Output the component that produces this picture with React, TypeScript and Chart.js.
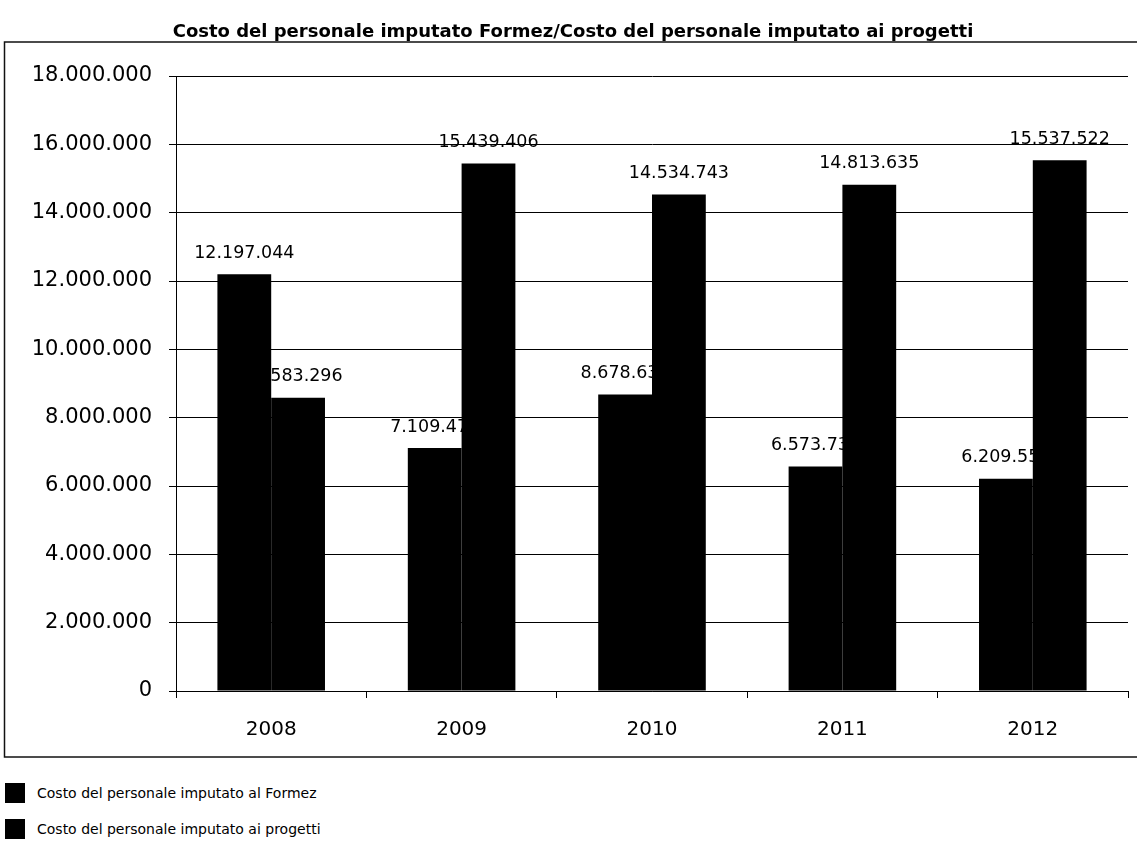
import React, { useEffect, useRef } from "react";
import { Chart, registerables } from "chart.js";

Chart.register(...registerables);

const chartTitle =
  "Costo del personale imputato Formez/Costo del personale imputato ai progetti";
const years = ["2008", "2009", "2010", "2011", "2012"];
const formezCost = [12197044, 7109474, 8678631, 6573731, 6209551];
const projectCost = [8583296, 15439406, 14534743, 14813635, 15537522];
const seriesLabels = [
  "Costo del personale imputato al Formez",
  "Costo del personale imputato ai progetti",
];
const seriesColors = ["#000000", "#000000"];
const yMin = 0;
const yMax = 18000000;
const yStep = 2000000;

const FONT = "'DejaVu Sans', Verdana, sans-serif";

function fmt(n: number): string {
  return String(Math.round(n)).replace(/\B(?=(\d{3})+(?!\d))/g, ".");
}

const labelsUnderBars = {
  id: "labelsUnderBars",
  beforeDatasetsDraw(chart: any) {
    const ctx = chart.ctx;
    ctx.save();
    ctx.font = "17.5px " + FONT;
    ctx.fillStyle = "#000";
    ctx.textAlign = "center";
    ctx.textBaseline = "middle";
    chart.data.datasets.forEach((ds: any, di: number) => {
      const meta = chart.getDatasetMeta(di);
      meta.data.forEach((el: any, i: number) => {
        ctx.fillText(fmt(ds.data[i]), el.x, el.y - 21);
      });
    });
    ctx.restore();
  },
};

const frame = {
  id: "frame",
  afterDraw(chart: any) {
    const ctx = chart.ctx;
    ctx.save();
    ctx.strokeStyle = "#111";
    ctx.lineWidth = 1.5;
    ctx.strokeRect(4.5, 42, chart.width + 10, 715);
    ctx.restore();
  },
};

export default function App() {
  const ref = useRef<HTMLCanvasElement | null>(null);

  useEffect(() => {
    if (!ref.current) return;
    const chart = new Chart(ref.current, {
      type: "bar",
      data: {
        labels: years,
        datasets: [
          {
            label: seriesLabels[0],
            data: formezCost,
            backgroundColor: seriesColors[0],
            borderWidth: 0,
          },
          {
            label: seriesLabels[1],
            data: projectCost,
            backgroundColor: seriesColors[1],
            borderWidth: 0,
          },
        ],
      },
      options: {
        responsive: false,
        animation: false,
        datasets: {
          bar: { categoryPercentage: 0.565, barPercentage: 1 },
        },
        layout: { padding: { left: 18, right: 9, top: 0, bottom: 0 } },
        plugins: {
          legend: { display: false },
          tooltip: { enabled: false },
          title: {
            display: true,
            text: chartTitle,
            color: "#000",
            font: { family: FONT, size: 18, weight: "bold", lineHeight: 1.2 },
            padding: { top: 22, bottom: 32.4 },
          },
        },
        scales: {
          x: {
            grid: {
              drawOnChartArea: false,
              drawTicks: true,
              tickLength: 7,
              color: "#000",
              offset: true,
            },
            border: { display: true, color: "#000", width: 1 },
            ticks: { font: { family: FONT, size: 20 }, color: "#000", padding: 20 },
            afterFit: (s: any) => {
              s.height = 69;
            },
          },
          y: {
            min: yMin,
            max: yMax,
            ticks: {
              stepSize: yStep,
              callback: (v: any) => fmt(Number(v)),
              font: { family: FONT, size: 21 },
              color: "#000",
              padding: 17,
            },
            grid: { color: "#000", lineWidth: 1, tickLength: 7 },
            border: { display: true, color: "#000", width: 1 },
            afterFit: (s: any) => {
              s.width = 158;
            },
          },
        },
      },
      plugins: [labelsUnderBars, frame],
    });
    return () => chart.destroy();
  }, []);

  return (
    <div
      style={{
        position: "absolute",
        left: 0,
        top: 0,
        width: 1137,
        height: 841,
        background: "#fff",
        overflow: "hidden",
      }}
    >
      <canvas ref={ref} width={1137} height={760} style={{ display: "block" }} />
      <div style={{ position: "absolute", left: 5, top: 775, fontFamily: FONT }}>
        {seriesLabels.map((l, i) => (
          <div
            key={l}
            style={{ display: "flex", alignItems: "center", height: 36 }}
          >
            <span
              style={{
                display: "inline-block",
                width: 20,
                height: 20,
                background: seriesColors[i],
                marginRight: 12,
              }}
            />
            <span style={{ fontSize: 14, color: "#000" }}>{l}</span>
          </div>
        ))}
      </div>
    </div>
  );
}
